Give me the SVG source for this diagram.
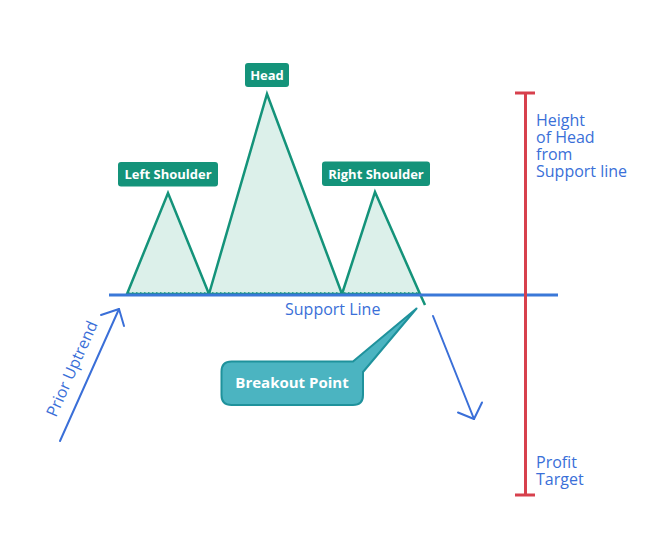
<svg xmlns="http://www.w3.org/2000/svg" width="667" height="546" viewBox="0 0 667 546">
<defs>
<style>
.tri{fill:#dcf0ea;stroke:#14937a;stroke-width:2.5;stroke-linejoin:miter}
.lbl{fill:#14937a;}
.lbltxt{font-family:"Open Sans",sans-serif;font-weight:bold;font-size:13px;fill:#ffffff;text-anchor:middle}
.blue{font-family:"Open Sans",sans-serif;font-size:16px;fill:#3a6fd8}
.arr{fill:none;stroke:#3a6fd8;stroke-width:2;stroke-linecap:round;stroke-linejoin:round}
</style>
</defs>
<rect width="667" height="546" fill="#ffffff"/>
<g id="pattern">
<polygon class="tri" points="127,294 168,193 209,294"/>
<polygon class="tri" points="209,294 267,94 342,294"/>
<polygon class="tri" points="342,294 375,192 420,294"/>
<line x1="420" y1="294" x2="425" y2="305" stroke="#14937a" stroke-width="2.5"/>
<line x1="128" y1="293" x2="420" y2="293" stroke="#14937a" stroke-width="1.5" stroke-dasharray="1.5,2.5"/>
</g>
<g id="connectors">
<line id="support-line" x1="109" y1="295" x2="558" y2="295" stroke="#3a78d8" stroke-width="3"/>
<g id="prior-uptrend-arrow">
<line class="arr" x1="60" y1="441" x2="119" y2="309"/>
<polyline class="arr" points="101,315 119,309 124,326"/>
</g>
<g id="down-arrow">
<line class="arr" x1="433" y1="316" x2="474" y2="419"/>
<polyline class="arr" points="458,412.5 474,419 482,402.5"/>
</g>
<g id="height-bar" stroke="#d7404d" stroke-width="3">
<line x1="525.5" y1="93" x2="525.5" y2="495"/>
<line x1="515" y1="93" x2="535" y2="93"/>
<line x1="515" y1="495" x2="535" y2="495"/>
</g>
</g>
<g id="head-label">
<rect class="lbl" x="245" y="63" width="44" height="24" rx="3"/>
<text class="lbltxt" x="267" y="80">Head</text>
</g>
<g id="left-shoulder-label">
<rect class="lbl" x="118" y="162" width="100" height="24.5" rx="3"/>
<text class="lbltxt" x="168" y="179">Left Shoulder</text>
</g>
<g id="right-shoulder-label">
<rect class="lbl" x="322" y="161.5" width="108" height="24.5" rx="3"/>
<text class="lbltxt" x="376" y="178.5">Right Shoulder</text>
</g>
<g id="support-line-label">
<text class="blue" x="285" y="315">Support Line</text>
</g>
<g id="prior-uptrend-label">
<text class="blue" transform="translate(77,371) rotate(-66)" text-anchor="middle">Prior Uptrend</text>
</g>
<g id="breakout-point">
<path d="M231.5,361.5 L353,361.5 L416.5,308.5 L363,372 L363,395 Q363,405 353,405 L231.5,405 Q221.5,405 221.5,395 L221.5,371.5 Q221.5,361.5 231.5,361.5 Z" fill="#4bb4c1" stroke="#1f929c" stroke-width="2" stroke-linejoin="round"/>
<text x="292" y="388" font-family="'Open Sans',sans-serif" font-weight="bold" font-size="15px" fill="#ffffff" text-anchor="middle">Breakout Point</text>
</g>
<g id="height-label">
<text class="blue" x="536" y="126">Height</text>
<text class="blue" x="536" y="143">of Head</text>
<text class="blue" x="536" y="160">from</text>
<text class="blue" x="536" y="177">Support line</text>
</g>
<g id="profit-target-label">
<text class="blue" x="536" y="468">Profit</text>
<text class="blue" x="536" y="485">Target</text>
</g>
</svg>
